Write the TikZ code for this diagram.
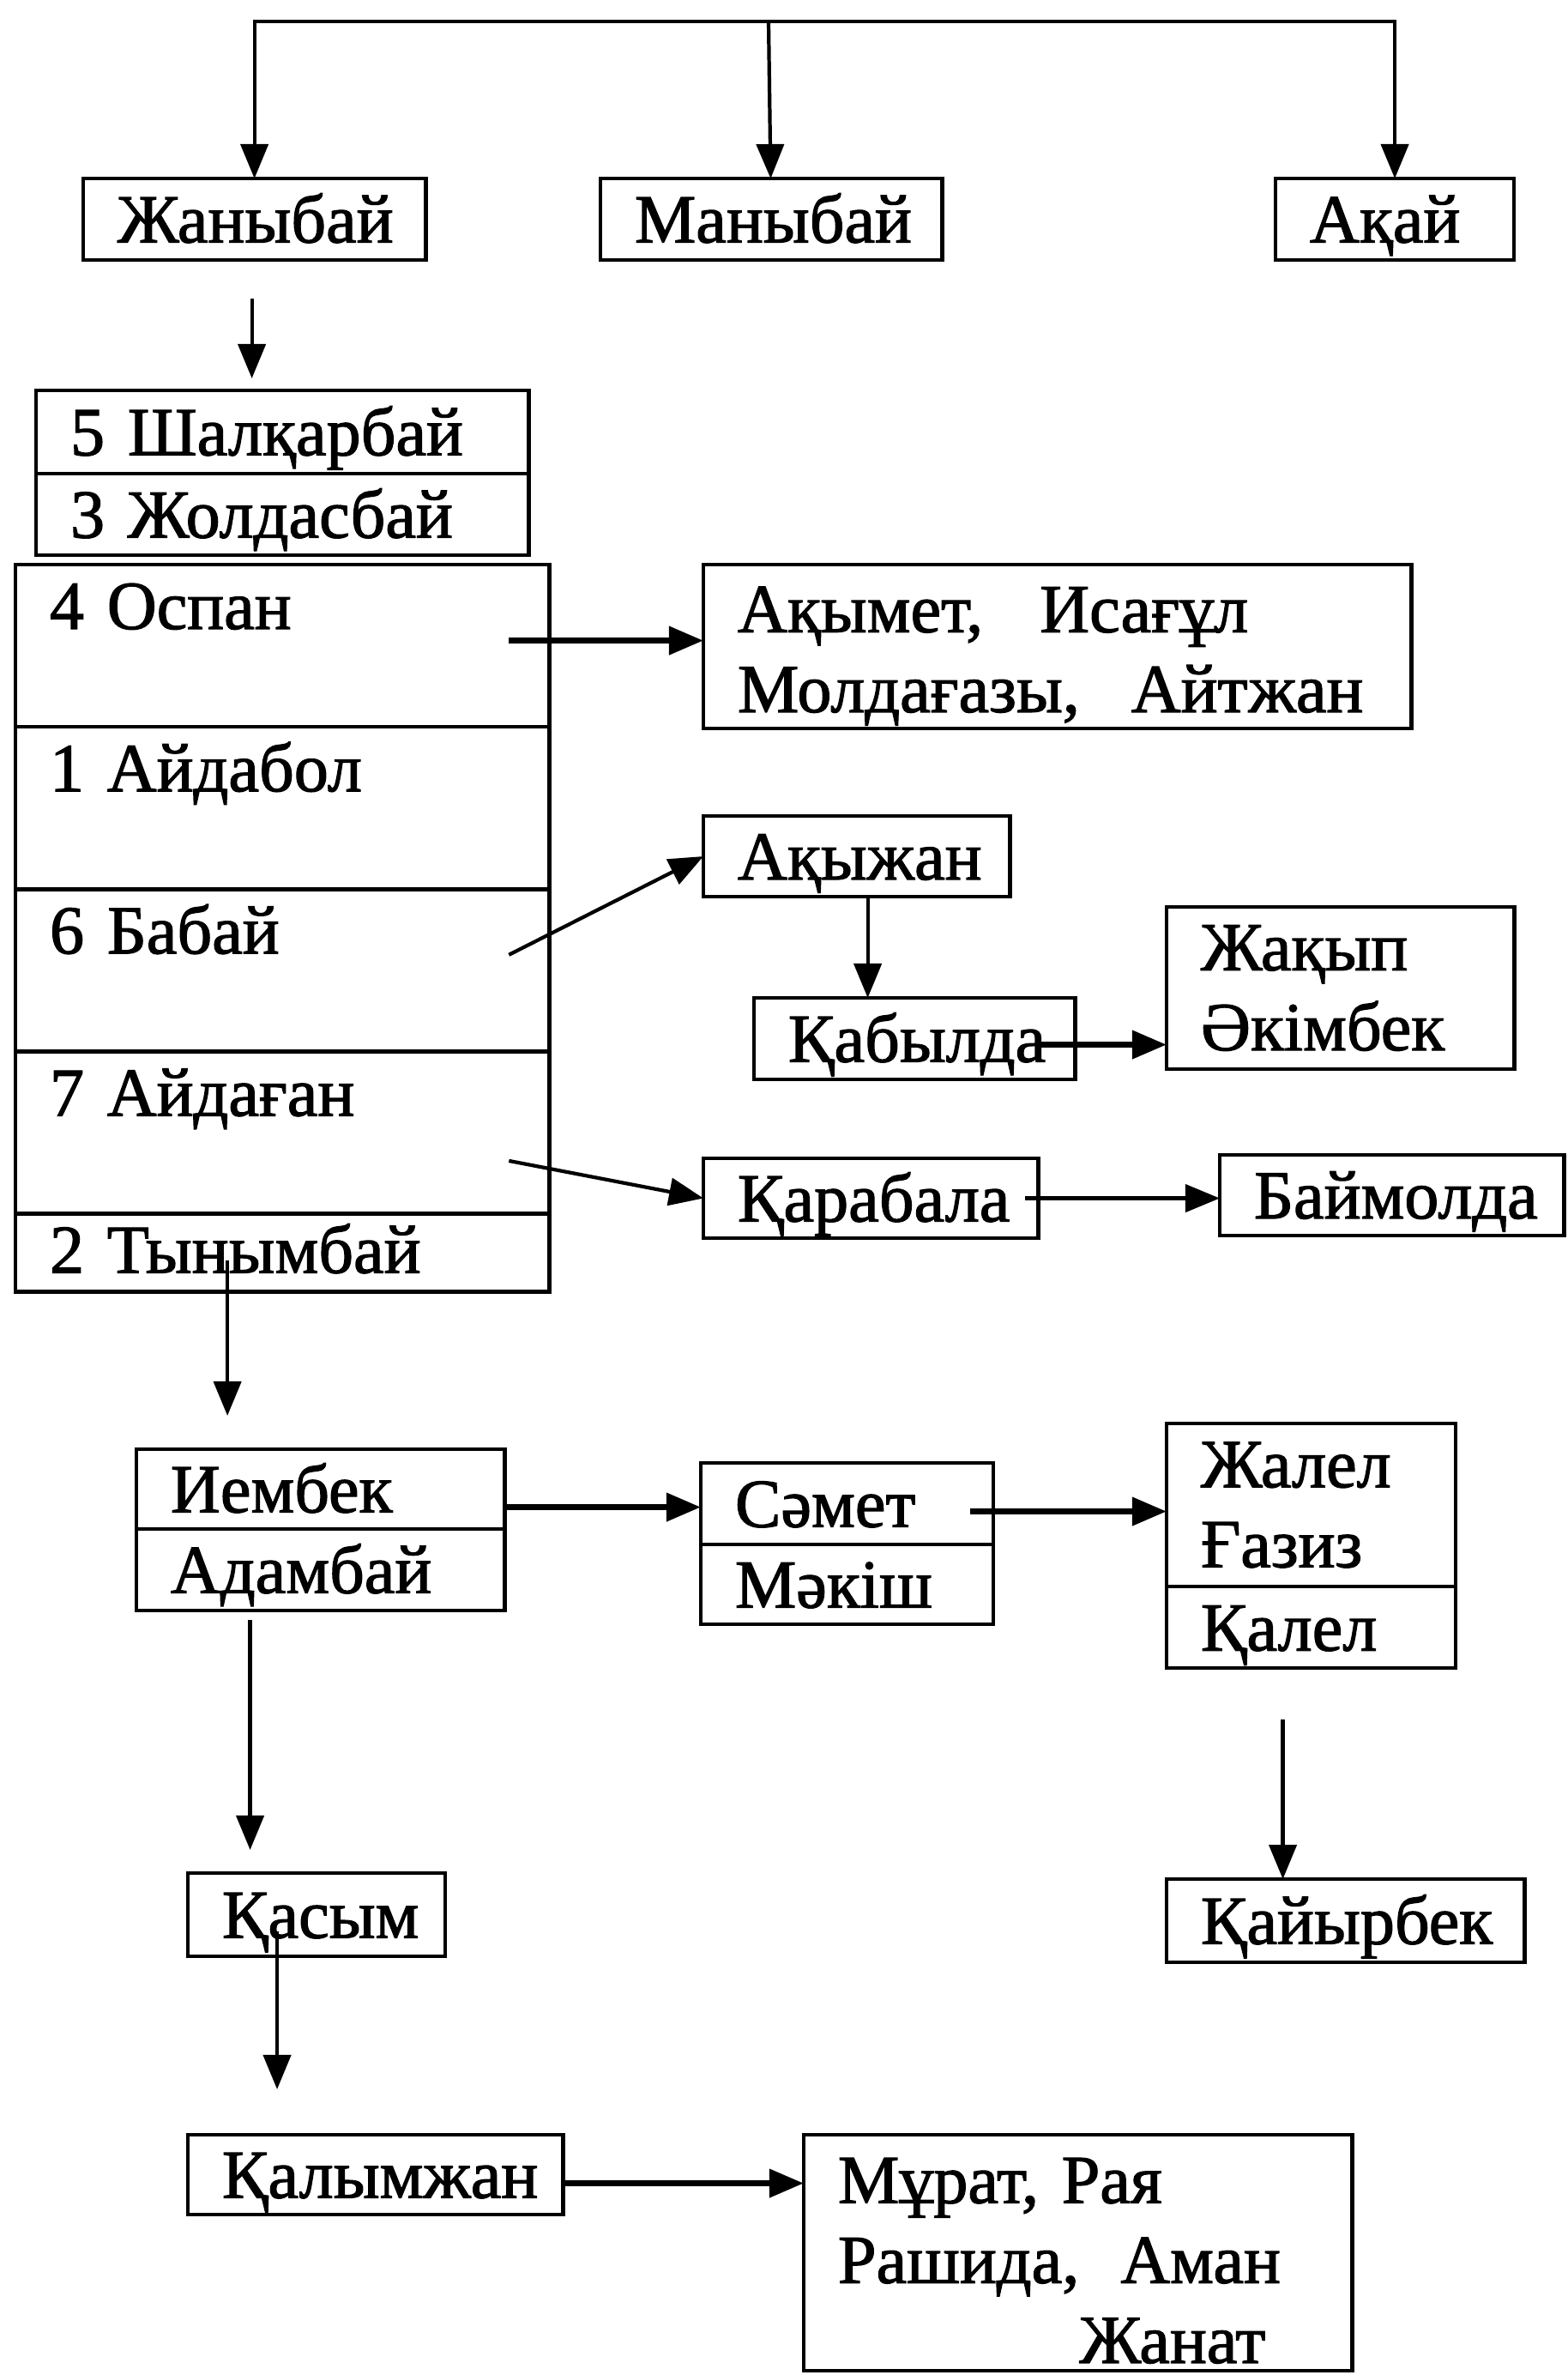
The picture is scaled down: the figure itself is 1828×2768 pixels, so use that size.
\documentclass[tikz,border=0pt]{standalone}
\usepackage{fontspec}
\setmainfont{Liberation Serif}
\newfontfamily\kzfamily{Liberation Serif}[FakeBold=1.5]
\usepackage{tikz}
\usetikzlibrary{arrows.meta,positioning}
\newcommand{\kzfont}{\kzfamily\fontsize{22.8pt}{26.5pt}\selectfont}

\begin{document}
\begin{tikzpicture}[
    x=0.01cm, y=-0.01cm,
    node distance=0pt,
    namebox/.style={rectangle, draw, line width=1.3pt, outer sep=0pt, inner xsep=0.4cm, inner ysep=0pt, anchor=north west, align=left, font=\kzfont},
    onebox/.style={namebox, text height=0.54cm, text depth=0pt, minimum height=0.95cm},
    rowbox/.style={namebox, text height=0.75cm, text depth=1.14cm},
    arrow/.style={-{Triangle[length=4mm,width=3.2mm]}, line width=1.2pt},
    thickarrow/.style={arrow, line width=2pt},
]
\useasboundingbox (0,0) rectangle (1828,2768);

% === TOP ROW ===
\coordinate (root) at (896,25);
\node[onebox, text width=3.19cm] (zhanybai) at (97,208) {Жаныбай};
\node[onebox, text width=3.18cm] (manybai) at (700,208) {Маныбай};
\node[onebox, text width=1.98cm] (akai) at (1487,208) {Ақай};

% === SHALQARBAI / ZHOLDASBAI ===
\node[onebox, text width=4.94cm, minimum height=0.97cm] (shalqar) at (42,455) {5 Шалқарбай};
\node[onebox, text width=4.94cm, below=of shalqar] (zholdas) {3 Жолдасбай};

% === SONS COLUMN ===
\node[rowbox, text width=5.42cm] (ospan) at (18,658) {4 Оспан};
\node[rowbox, text width=5.42cm, below=of ospan] (aidabol) {1 Айдабол};
\node[rowbox, text width=5.42cm, below=of aidabol] (babai) {6 Бабай};
\node[rowbox, text width=5.42cm, below=of babai] (aidagan) {7 Айдаған};
\node[namebox, text width=5.42cm, text height=0.69cm, text depth=0.22cm, below=of aidagan] (tynym) {2 Тынымбай};

% === RIGHT BRANCHES ===
\node[namebox, text width=7.45cm, minimum height=1.91cm] (akymet) at (820,658) {\rule{0pt}{0.75cm}Ақымет,\hspace{0.66cm}Исағұл\\Молдағазы,\hspace{0.6cm}Айтжан};
\node[onebox, text width=2.77cm, minimum height=0.94cm] (akyzhan) at (820,951) {Ақыжан};
\node[onebox, text width=2.94cm] (qabylda) at (879,1163) {Қабылда};
\node[namebox, text width=3.25cm, minimum height=1.89cm] (zhaqyp) at (1360,1057) {Жақып\\Әкімбек};
\node[onebox, text width=3.10cm, minimum height=0.93cm] (qarabala) at (820,1350) {Қарабала};
\node[onebox, text width=3.21cm, minimum height=0.94cm] (baimolda) at (1422,1346) {Баймолда};

% === TYNYMBAI LINE ===
\node[onebox, text width=3.49cm, minimum height=0.93cm] (iembek) at (159,1689) {Иембек};
\node[onebox, text width=3.49cm, below=of iembek] (adambai) {Адамбай};
\node[onebox, text width=2.61cm] (samet) at (817,1705) {Сәмет};
\node[onebox, text width=2.61cm, minimum height=0.93cm, below=of samet] (makish) {Мәкіш};
\node[namebox, text width=2.57cm, minimum height=1.90cm] (zhalel) at (1360,1659) {Жалел\\Ғазиз};
\node[onebox, text width=2.57cm, below=of zhalel] (qalel) {Қалел};
\node[onebox, text width=2.2cm, minimum height=0.97cm] (qasym) at (219,2183) {Қасым};
\node[onebox, text width=3.37cm, minimum height=0.97cm] (qaiyrbek) at (1360,2190) {Қайырбек};
\node[onebox, text width=3.57cm, minimum height=0.93cm] (qalymzhan) at (219,2488) {Қалымжан};
\node[namebox, text width=5.59cm, minimum height=2.75cm] (murat) at (937,2488) {\rule{0pt}{0.71cm}Мұрат, Рая\\Рашида,\hspace{0.48cm}Аман\\\hspace*{\fill}Жанат\rule{0.61cm}{0pt}};

% === ARROWS ===
\draw[arrow] (root) -| (zhanybai);
\draw[arrow] (root) -- (manybai);
\draw[arrow] (root) -| (akai);
\draw[arrow, shorten <=0.45cm, shorten >=0.14cm] ([xshift=-0.03cm]zhanybai.south) -- ([xshift=-0.03cm]zhanybai.south |- shalqar.north);

\draw[thickarrow] ([xshift=-0.47cm, yshift=0.06cm]ospan.east) -- ([yshift=0.06cm]ospan.east -| akymet.west);
\draw[arrow] ([xshift=-0.47cm, yshift=0.18cm]babai.east) -- (akyzhan.west);
\draw[arrow] ([xshift=-0.47cm, yshift=-0.33cm]aidagan.east) -- (qarabala.west);
\draw[arrow] ([xshift=0.13cm]akyzhan.south) -- ([xshift=0.13cm]akyzhan.south |- qabylda.north);
\draw[thickarrow] ([xshift=-0.46cm, yshift=-0.07cm]qabylda.east) -- ([yshift=-0.07cm]qabylda.east -| zhaqyp.west);
\draw[arrow] ([xshift=-0.15cm]qarabala.east) -- (qarabala.east -| baimolda.west);

\draw[arrow, shorten >=0.39cm] ([xshift=-0.64cm, yshift=-0.09cm]tynym.center) -- ([xshift=-0.64cm]tynym.center |- iembek.north);
\draw[thickarrow] ([yshift=-0.21cm]iembek.east) -- ([yshift=-0.21cm]iembek.east -| samet.west);
\draw[thickarrow] ([xshift=-0.27cm, yshift=-0.09cm]samet.east) -- ([yshift=-0.09cm]samet.east -| zhalel.west);
\draw[arrow, shorten <=0.11cm, shorten >=0.27cm] ([xshift=-0.82cm]adambai.south) -- ([xshift=-0.82cm]adambai.south |- qasym.north);
\draw[arrow, shorten <=0.6cm] ([xshift=-0.33cm]qalel.south) -- ([xshift=-0.33cm]qalel.south |- qaiyrbek.north);
\draw[arrow, shorten >=0.53cm] ([xshift=-0.46cm, yshift=-0.19cm]qasym.center) -- ([xshift=-0.46cm]qasym.center |- qalymzhan.north);
\draw[thickarrow] ([yshift=-0.1cm]qalymzhan.east) -- ([yshift=-0.1cm]qalymzhan.east -| murat.west);

\end{tikzpicture}
\end{document}
